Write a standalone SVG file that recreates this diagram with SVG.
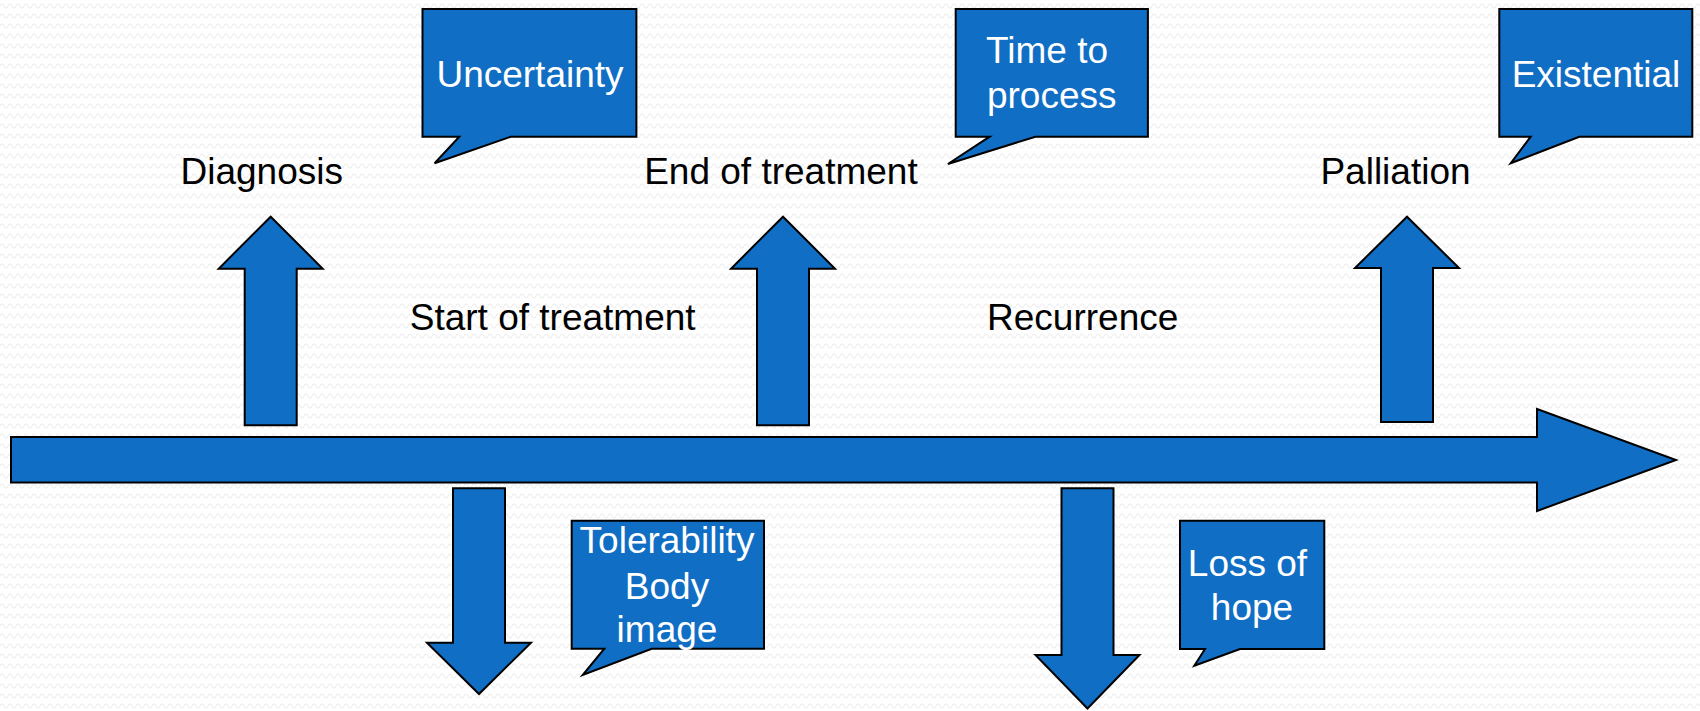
<svg xmlns="http://www.w3.org/2000/svg" width="1700" height="711" viewBox="0 0 1700 711">
  <defs>
    <pattern id="bg" width="8" height="10" patternUnits="userSpaceOnUse">
      <rect width="8" height="10" fill="#ffffff"/>
      <path d="M0,6 Q2,2 4,6 T8,6" fill="none" stroke="#efefef" stroke-width="1.2"/>
    </pattern>
    <style>
      .shape { fill: #106EC4; stroke: #000000; stroke-width: 2; stroke-linejoin: miter; }
      .lbl { font-family: "Liberation Sans", Arial, sans-serif; font-size: 37px; fill: #000000; text-anchor: middle; }
      .ctext { font-family: "Liberation Sans", Arial, sans-serif; font-size: 37px; fill: #ffffff; text-anchor: middle; }
    </style>
  </defs>
  <rect width="1700" height="711" fill="url(#bg)"/>

  <g id="connectors">
    <path id="timeline" class="shape" d="M11,437 H1537 V409 L1676,460 L1537,511 V482.5 H11 Z"/>
    <path id="arrow-diagnosis" class="shape" d="M244.7,425.3 V268.7 H218.7 L270.7,216.7 L322.7,268.7 H296.7 V425.3 Z"/>
    <path id="arrow-end" class="shape" d="M757,425.3 V268.7 H731 L783,216.7 L835,268.7 H809 V425.3 Z"/>
    <path id="arrow-palliation" class="shape" d="M1381,422 V268 H1355 L1407,216.7 L1459,268 H1433 V422 Z"/>
    <path id="arrow-start" class="shape" d="M453,488.3 V642.7 H427 L479,694 L531,642.7 H505 V488.3 Z"/>
    <path id="arrow-recurrence" class="shape" d="M1061.5,488.3 V655 H1035.5 L1087.5,708.5 L1139.5,655 H1113.5 V488.3 Z"/>
  </g>

  <g id="label-diagnosis"><text class="lbl" x="261.7" y="184.3">Diagnosis</text></g>
  <g id="label-start"><text class="lbl" x="552.7" y="330">Start of treatment</text></g>
  <g id="label-end"><text class="lbl" x="780.9" y="184.3">End of treatment</text></g>
  <g id="label-recurrence"><text class="lbl" x="1082.7" y="330">Recurrence</text></g>
  <g id="label-palliation"><text class="lbl" x="1395.5" y="184.3">Palliation</text></g>

  <g id="callout-uncertainty">
    <path class="shape" d="M422.5,9 H636.4 V136.7 H510.7 L434.6,163.3 L459.3,136.7 H422.5 Z"/>
    <text class="ctext" x="530" y="87.3">Uncertainty</text>
  </g>
  <g id="callout-time">
    <path class="shape" d="M955.7,9 H1147.9 V136.7 H1035.4 L947.9,164 L989.6,136.7 H955.7 Z"/>
    <text class="ctext" x="1047" y="63.3">Time to</text>
    <text class="ctext" x="1051.7" y="108.3">process</text>
  </g>
  <g id="callout-existential">
    <path class="shape" d="M1499.3,9 H1692.3 V136.7 H1579.3 L1510.7,163.3 L1530.7,136.7 H1499.3 Z"/>
    <text class="ctext" x="1596" y="87.3">Existential</text>
  </g>
  <g id="callout-tolerability">
    <path class="shape" d="M571.7,520.7 H764 V648.7 H651.7 L582.7,675 L604.3,648.7 H571.7 Z"/>
    <text class="ctext" x="667" y="553.3">Tolerability</text>
    <text class="ctext" x="667" y="599">Body</text>
    <text class="ctext" x="667" y="641.7">image</text>
  </g>
  <g id="callout-hope">
    <path class="shape" d="M1180,520.7 H1324.3 V649 H1240 L1194.3,665.7 L1205,649 H1180 Z"/>
    <text class="ctext" x="1247.5" y="576">Loss of</text>
    <text class="ctext" x="1252" y="620">hope</text>
  </g>
</svg>
